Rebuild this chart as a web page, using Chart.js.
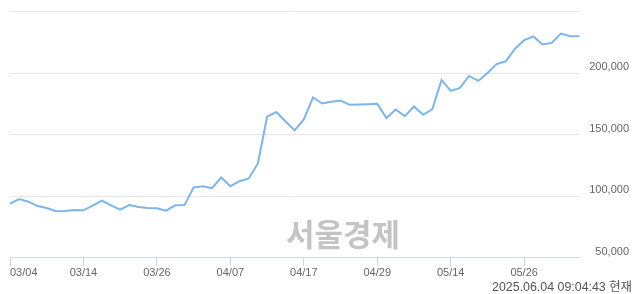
<!DOCTYPE html>
<html>
<head>
<meta charset="utf-8">
<script src="https://cdn.jsdelivr.net/npm/chart.js@4"></script>
<style>
  html, body { margin: 0; padding: 0; background: #fff; }
  #wrap { position: relative; width: 640px; height: 294px; }
  #c { position: absolute; left: 0; top: 0; }
  #wm { position: absolute; left: 286px; top: 217px; font: bold 31px "Noto Sans CJK KR", sans-serif; line-height: 31px; color: #c4c4c4; white-space: nowrap; }
  #ts { position: absolute; right: 8px; top: 280px; font: 12.4px "Liberation Sans", Arial, "Noto Sans CJK KR", sans-serif; line-height: 14px; color: #555; white-space: nowrap; }
</style>
</head>
<body>
<div id="wrap">
  <canvas id="c" width="640" height="294"></canvas>
  <div id="wm">서울경제</div>
  <div id="ts">2025.06.04 09:04:43 현재</div>
</div>
<script>
const dates = [
  "03/04","03/05","03/06","03/07","03/10","03/11","03/12","03/13",
  "03/14","03/17","03/18","03/19","03/20","03/21","03/24","03/25",
  "03/26","03/27","03/28","03/31","04/01","04/02","04/03","04/04",
  "04/07","04/08","04/09","04/10","04/11","04/14","04/15","04/16",
  "04/17","04/18","04/21","04/22","04/23","04/24","04/25","04/28",
  "04/29","04/30","05/02","05/07","05/08","05/09","05/12","05/13",
  "05/14","05/15","05/16","05/19","05/20","05/21","05/22","05/23",
  "05/26","05/27","05/28","05/29","05/30","06/02","06/04"
];
const shownDates = ["03/04","03/14","03/26","04/07","04/17","04/29","05/14","05/26"];
const prices = [
  94000, 97700, 95600, 92000, 90400, 87800, 88000, 88800,
  88600, 92400, 96400, 92600, 89100, 92800, 91200, 90400,
  90200, 88300, 92600, 92800, 107200, 108200, 106600, 115200,
  108200, 112200, 114400, 126600, 164600, 168400, 160900, 153500,
  162400, 180200, 175300, 176700, 177700, 174300, 174500, 174800,
  175100, 163500, 170500, 165100, 172900, 166200, 170800, 194500,
  185600, 188000, 197700, 193700, 200100, 207400, 209600, 219800,
  226800, 229800, 223300, 224600, 232200, 230000, 230000
];
const yTicks = [50000, 100000, 150000, 200000, 250000];

new Chart(document.getElementById('c'), {
  type: 'line',
  data: {
    labels: dates,
    datasets: [{
      data: prices,
      borderColor: '#7cb5ec',
      borderWidth: 2,
      pointRadius: 0,
      tension: 0,
      fill: false
    }]
  },
  options: {
    responsive: false,
    animation: false,
    layout: { padding: { left: 10, right: 11, top: 4.5, bottom: 13 } },
    plugins: { legend: { display: false }, tooltip: { enabled: false } },
    scales: {
      x: {
        offset: false,
        border: { color: '#ccd6eb', width: 1 },
        grid: {
          drawOnChartArea: false,
          drawTicks: true,
          tickLength: 8,
          tickColor: (ctx) => (ctx.tick && shownDates.includes(dates[ctx.tick.value])) ? '#ccd6eb' : 'rgba(0,0,0,0)'
        },
        ticks: {
          autoSkip: false,
          maxRotation: 0,
          minRotation: 0,
          align: 'inner',
          padding: 1,
          color: '#666666',
          font: { family: '"Liberation Sans", Arial, sans-serif', size: 11 },
          callback: function(v, i) { const l = dates[i]; return shownDates.includes(l) ? l : ''; }
        }
      },
      y: {
        position: 'right',
        min: 50000,
        max: 250000,
        afterBuildTicks: (s) => { s.ticks = yTicks.map(v => ({ value: v })); },
        border: { display: false },
        grid: { color: '#e6e6e6', lineWidth: 1, drawTicks: false },
        ticks: {
          padding: 5,
          crossAlign: 'far',
          labelOffset: -6,
          color: '#666666',
          font: { family: '"Liberation Sans", Arial, sans-serif', size: 11 },
          callback: (v) => v === 250000 ? '' : v.toLocaleString('en-US')
        }
      }
    }
  }
});
</script>
</body>
</html>
